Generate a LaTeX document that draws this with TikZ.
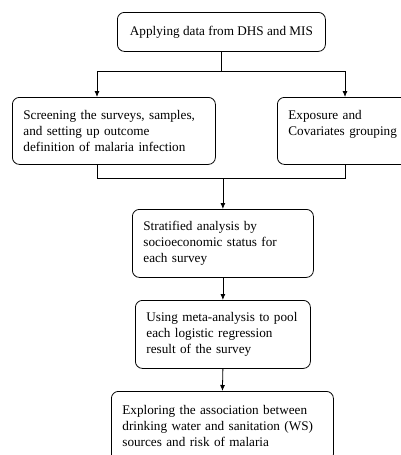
\documentclass[tikz,border=0pt]{standalone}
\usepackage{fontspec}
\setmainfont{Liberation Serif}
\usetikzlibrary{arrows.meta}

\begin{document}
\begin{tikzpicture}[x=1pt,y=1pt]
\tikzstyle{every node}+=[font=\fontsize{13.2}{16}\selectfont]
\tikzstyle{stepbox}=[draw=black, line width=0.8pt, rounded corners=7pt, anchor=north west, inner xsep=11pt, align=left]
\tikzstyle{link}=[line width=0.8pt, black]
\tikzstyle{linkarrow}=[link, -{Latex[length=6pt,width=5pt]}]
\useasboundingbox (0,0) rectangle (401,-455);
% boxes
\node [stepbox, align=center, minimum width=208pt, minimum height=39pt] (data) at (117,-12) {Applying data from DHS and MIS};
\node [stepbox, text width=181pt, minimum height=67pt] (screen) at (12,-97) {Screening the surveys, samples,\\and setting up outcome\\definition of malaria infection};
\node [stepbox, text width=121pt, minimum height=67pt] (expo) at (277,-97) {Exposure and\\Covariates grouping\\\mbox{}};
\node [stepbox, text width=159pt, minimum height=68pt] (strat) at (132,-209) {Stratified analysis by\\socioeconomic status for\\each survey};
\node [stepbox, text width=153pt, minimum height=68pt] (meta) at (135,-300) {\mbox{Using meta-analysis to pool}\\each logistic regression\\result of the survey};
\node [stepbox, text width=200pt, minimum height=70pt] (explore) at (111,-391) {Exploring the association between\\drinking water and sanitation (WS)\\sources and risk of malaria};
% joins
\coordinate (jl) at (97,-71);
\coordinate (jr) at (345,-71);
\coordinate (kl) at (97,-178);
\coordinate (kr) at (345,-178);
% connectors
\draw [link] (data.south) -- (data.south |- jl);
\draw [link] (jl) -- (jr);
\draw [linkarrow] (jl) -- (jl |- screen.north);
\draw [linkarrow] (jr) -- (jr |- expo.north);
\draw [link] (kl |- screen.south) -- (kl) -- (kr) -- (kr |- expo.south);
\draw [linkarrow] (strat.north |- kl) -- (strat.north);
\draw [linkarrow] (strat.south) -- (meta.north);
\draw [linkarrow] (meta.south) -- (explore.north);
\end{tikzpicture}
\end{document}
